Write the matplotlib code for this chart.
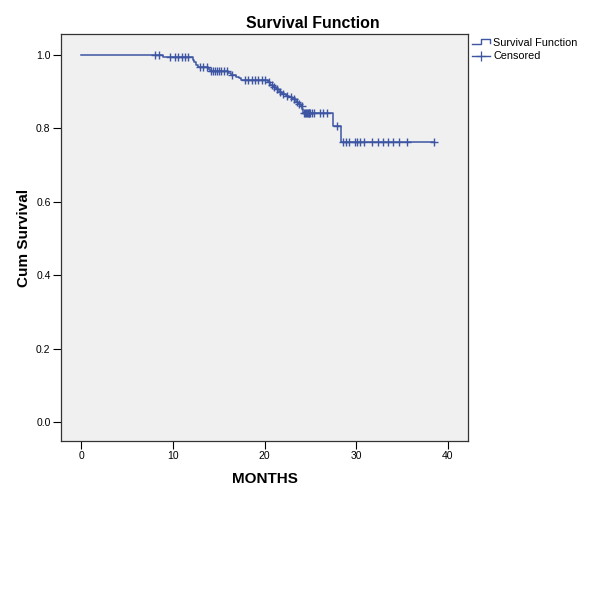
import numpy as np
import matplotlib
matplotlib.use("Agg")
import matplotlib.pyplot as plt
from matplotlib.lines import Line2D

plt.rcParams['font.family'] = ['Liberation Sans', 'DejaVu Sans']

# Step function: event times and survival after each event
event_times = [0.0, 8.9, 12.2, 12.35, 12.5, 12.7, 13.8, 14.1, 16.0, 16.3, 16.9, 17.2, 17.4,
               20.4, 20.6, 20.9, 21.2, 21.6, 21.9, 22.3, 22.7, 23.0, 23.4, 23.7, 24.0,
               24.1, 24.2, 27.5, 28.3]
surv_values = [1.0, 0.995, 0.987, 0.980, 0.973, 0.967, 0.961, 0.955, 0.950, 0.946, 0.941, 0.937, 0.932,
               0.925, 0.918, 0.912, 0.906, 0.900, 0.894, 0.889, 0.884, 0.879, 0.873, 0.867, 0.860,
               0.852, 0.842, 0.807, 0.764]
censor_times = [8.1, 8.5, 9.7, 10.2, 10.6, 11.0, 11.3, 11.7,
                13.0, 13.3, 13.7,
                14.2, 14.4, 14.6, 14.8, 15.0, 15.3, 15.6, 15.9,
                16.5,
                17.9, 18.2, 18.6, 19.0, 19.3, 19.7, 20.1,
                20.5, 20.8, 21.0, 21.4, 21.7, 22.0, 22.5, 22.9, 23.2, 23.5, 23.8, 24.05,
                24.3, 24.4, 24.5, 24.6, 24.7, 24.8, 24.9, 25.0, 25.2, 25.4, 26.0, 26.4, 26.8,
                27.9,
                28.6, 28.9, 29.2, 29.9, 30.1, 30.4, 30.8, 31.7, 32.4, 32.9, 33.5, 34.0, 34.7,
                35.5, 38.5]
x_ticks = [0, 10, 20, 30, 40]
y_ticks = [0.0, 0.2, 0.4, 0.6, 0.8, 1.0]

line_color = '#3D55A3'

W, H = 592, 604
fig = plt.figure(figsize=(W / 100, H / 100), dpi=100)
fig.patch.set_facecolor('white')

ax = fig.add_axes([61 / W, 1 - 441 / H, (468 - 61) / W, (441 - 34) / H])
ax.set_facecolor('#F0F0F0')

# survival step line
xs = list(event_times) + [max(censor_times)]
ys = list(surv_values) + [surv_values[-1]]
ax.step(xs, ys, where='post', color=line_color, lw=1.1)

# censored marks
et = np.array(event_times)
sv = np.array(surv_values)
cy = [sv[np.searchsorted(et, t, side='right') - 1] for t in censor_times]
ax.plot(censor_times, cy, linestyle='none', marker='+', markersize=5.5,
        markeredgewidth=1.0, color=line_color)

ax.set_xlim(-2.18, 42.18)
ax.set_ylim(-0.052, 1.057)
ax.set_xticks(x_ticks)
ax.set_yticks(y_ticks)
ax.set_yticklabels([f"{v:.1f}" for v in y_ticks])
ax.tick_params(axis='both', direction='out', length=5.5, width=0.8,
               labelsize=7.5, colors='black', pad=2)
for s in ax.spines.values():
    s.set_color('#333333')
    s.set_linewidth(0.9)

ax.set_xlabel('MONTHS', fontsize=11, fontweight='bold', labelpad=7.5)
ax.set_ylabel('Cum Survival', fontsize=11, fontweight='bold', labelpad=3.5)

fig.text(313 / W, 1 - 23.5 / H, 'Survival Function', fontsize=11.4,
         fontweight='bold', ha='center', va='center')

# legend drawn manually in figure coordinates
def fx(p):
    return p / W

def fy(p):
    return 1 - p / H

fig.add_artist(Line2D([fx(472), fx(481), fx(481), fx(490), fx(490)],
                      [fy(44), fy(44), fy(39), fy(39), fy(43)],
                      transform=fig.transFigure, color=line_color, lw=1.0))
fig.add_artist(Line2D([fx(472), fx(490)], [fy(56), fy(56)],
                      transform=fig.transFigure, color=line_color, lw=1.0))
fig.add_artist(Line2D([fx(481)], [fy(56)], transform=fig.transFigure,
                      marker='+', markersize=7, markeredgewidth=0.9,
                      color=line_color, linestyle='none'))
fig.text(fx(493), fy(43), 'Survival Function', fontsize=7.8, ha='left', va='center')
fig.text(fx(493), fy(56), 'Censored', fontsize=7.8, ha='left', va='center')

fig.savefig('out.png', dpi=100, facecolor='white')
